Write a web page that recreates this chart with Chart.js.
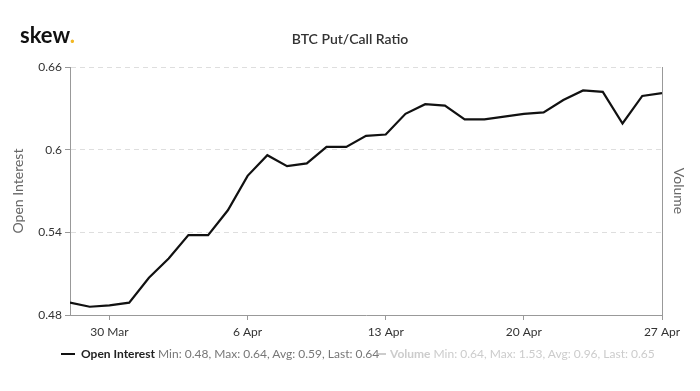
<!DOCTYPE html>
<html>
<head>
<meta charset="utf-8">
<script src="https://cdn.jsdelivr.net/npm/chart.js@4.4.0/dist/chart.umd.min.js"></script>
<style>
  html, body { margin: 0; padding: 0; background: #fff; }
  #wrap { position: relative; width: 700px; height: 391px; overflow: hidden; font-family: Lato, "Open Sans", sans-serif; }
  #c { position: absolute; left: 0; top: 0; }
  .abs { position: absolute; white-space: nowrap; }
  #logo { left: 20px; top: 22px; font-size: 22px; font-weight: 700; color: #111; line-height: 26px; letter-spacing: 0px; }
  #logo span { color: #f2b824; }
  #title { left: 0; width: 700px; text-align: center; top: 30px; font-size: 14px; font-weight: 600; color: #333; line-height: 18px; }
  .leg { top: 347px; font-size: 12px; line-height: 14px; }
  .sym { position: absolute; height: 2px; }
</style>
</head>
<body>
<div id="wrap">
  <canvas id="c" width="700" height="391"></canvas>
  <div id="logo" class="abs">skew<span>.</span></div>
  <div id="title" class="abs">BTC Put/Call Ratio</div>
  <div class="sym" style="left:61px; top:353px; width:14px; background:#111;"></div>
  <div class="abs leg" style="left:81px;"><b style="color:#222;">Open Interest</b> <span style="color:#777;">Min: 0.48, Max: 0.64, Avg: 0.59, Last: 0.64</span></div>
  <div class="sym" style="left:378px; top:353px; width:8px; background:#ccc;"></div>
  <div class="abs leg" style="left:390px; color:#ccc;"><b>Volume</b> Min: 0.64, Max: 1.53, Avg: 0.96, Last: 0.65</div>
</div>
<script>
const dates = ['28 Mar','29 Mar','30 Mar','31 Mar','1 Apr','2 Apr','3 Apr','4 Apr','5 Apr','6 Apr',
  '7 Apr','8 Apr','9 Apr','10 Apr','11 Apr','12 Apr','13 Apr','14 Apr','15 Apr','16 Apr',
  '17 Apr','18 Apr','19 Apr','20 Apr','21 Apr','22 Apr','23 Apr','24 Apr','25 Apr','26 Apr','27 Apr'];
const openInterest = [0.489,0.486,0.487,0.489,0.507,0.521,0.538,0.538,0.556,0.581,
  0.596,0.588,0.590,0.602,0.602,0.610,0.611,0.626,0.633,0.632,
  0.622,0.622,0.624,0.626,0.627,0.636,0.643,0.642,0.619,0.639,0.641];
const xTickLabels = ['30 Mar','6 Apr','13 Apr','20 Apr','27 Apr'];
const yTicks = [0.48, 0.54, 0.6, 0.66];

const points = dates.map((d, i) => ({ x: i, y: openInterest[i] }));
const tickFont = { family: 'Lato', size: 12 };

new Chart(document.getElementById('c'), {
  type: 'line',
  data: {
    datasets: [{
      label: 'Open Interest',
      data: points,
      borderColor: '#111',
      borderWidth: 2.2,
      pointRadius: 0,
      tension: 0,
      fill: false,
      yAxisID: 'y'
    }]
  },
  options: {
    responsive: false,
    animation: false,
    devicePixelRatio: 1,
    layout: { padding: { top: 67, left: 0, right: 0, bottom: 0 } },
    plugins: { legend: { display: false }, tooltip: { enabled: false }, title: { display: false } },
    scales: {
      x: {
        type: 'linear',
        min: 0,
        max: dates.length - 1,
        afterBuildTicks: (axis) => { axis.ticks = xTickLabels.map(l => ({ value: dates.indexOf(l) })); },
        afterFit: (axis) => { axis.height = 76; },
        ticks: { callback: (v) => dates[v], color: '#333', font: tickFont, padding: 5, maxRotation: 0, autoSkip: false },
        grid: { drawOnChartArea: false, drawTicks: true, tickLength: 5, tickColor: '#999' },
        border: { color: '#999', width: 1 }
      },
      y: {
        position: 'left',
        min: 0.48,
        max: 0.66,
        afterBuildTicks: (axis) => { axis.ticks = yTicks.map(v => ({ value: v })); },
        afterFit: (axis) => { axis.width = 70; },
        ticks: { callback: (v) => String(v), color: '#333', font: tickFont, padding: 3 },
        grid: { color: '#dedede', drawTicks: true, tickLength: 5, tickColor: '#999', tickBorderDash: [] },
        border: { color: '#999', width: 1, dash: [5, 4] },
        title: { display: true, text: 'Open Interest', color: '#666', font: { family: 'Lato', size: 14 }, padding: { top: 10, bottom: 0 } }
      },
      y1: {
        position: 'right',
        min: 0,
        max: 1,
        afterFit: (axis) => { axis.width = 38; },
        ticks: { display: false },
        grid: { display: false, drawOnChartArea: false },
        border: { color: '#999', width: 1 },
        title: { display: true, text: 'Volume', color: '#666', font: { family: 'Lato', size: 14 }, padding: { top: 13, bottom: 0 } }
      }
    }
  }
});
</script>
</body>
</html>
